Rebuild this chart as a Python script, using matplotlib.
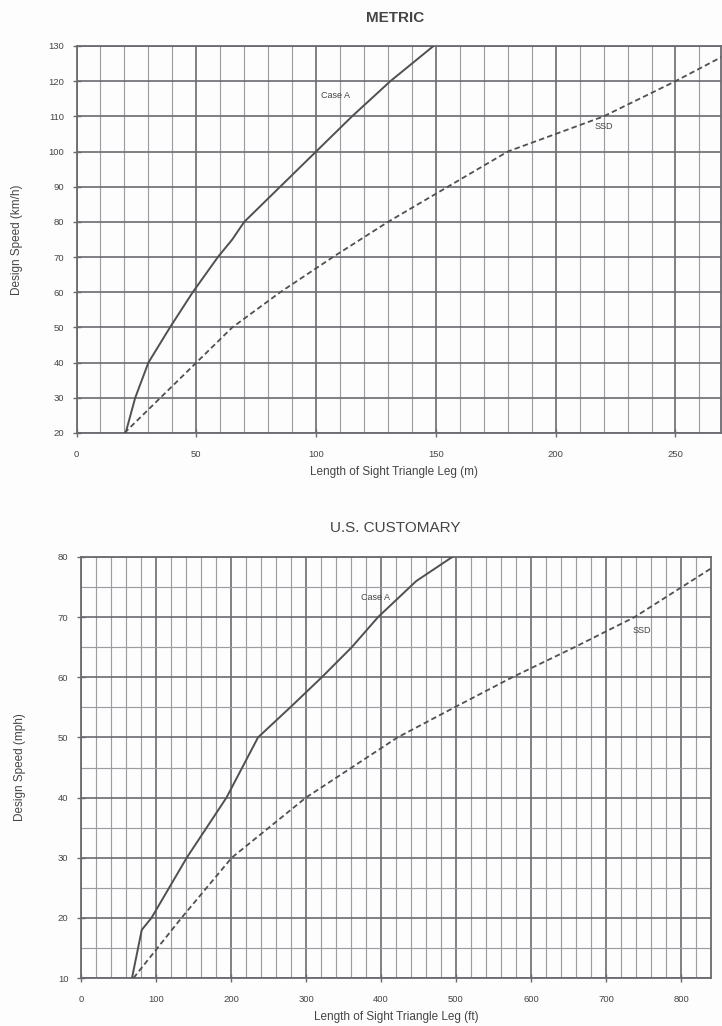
import matplotlib
matplotlib.use("Agg")
import matplotlib.pyplot as plt
from matplotlib.ticker import MultipleLocator

plt.rcParams['font.family'] = ['Liberation Sans', 'DejaVu Sans']

# ---- Metric data: design speed (km/h) vs. sight triangle leg (m) ----
metric_speed_case_a = [20, 30, 40, 50, 60, 70, 75, 80, 90, 100, 110, 120, 130]
metric_leg_case_a = [20.5, 24.5, 30, 39, 48.5, 59, 65, 70, 85, 100, 115, 131, 149]
metric_speed_ssd = [20, 30, 40, 50, 60, 70, 80, 90, 100, 110, 120, 130]
metric_leg_ssd = [20, 35, 50, 65, 85, 107, 130, 155, 180, 220, 250, 278]

# ---- U.S. customary data: design speed (mph) vs. sight triangle leg (ft) ----
us_speed_case_a = [10, 18, 20, 30, 40, 50, 55, 60, 65, 70, 76, 80]
us_leg_case_a = [68, 81, 94, 141, 194, 236, 279, 321, 361, 396, 447, 495]
us_speed_ssd = [10, 20, 30, 40, 50, 55, 60, 65, 70, 80]
us_leg_ssd = [70, 134, 201, 300, 422, 498, 575, 658, 738, 864]

metric_xticks = [0, 50, 100, 150, 200, 250]
metric_yticks = [20, 30, 40, 50, 60, 70, 80, 90, 100, 110, 120, 130]
us_xticks = [0, 100, 200, 300, 400, 500, 600, 700, 800]
us_yticks = [10, 20, 30, 40, 50, 60, 70, 80]

INK = '#454545'
LINE = '#505050'
GRID_MAJOR = '#6a6a70'
GRID_MINOR = '#9c9ca2'

fig = plt.figure(figsize=(7.22, 10.26), dpi=100)
fig.patch.set_facecolor('#fdfdfd')


def style_axes(ax, xlim, ylim, xticks, yticks, xminor, yminor):
    ax.set_facecolor('#fdfdfd')
    ax.set_xlim(*xlim)
    ax.set_ylim(*ylim)
    ax.set_xticks(xticks)
    ax.set_yticks(yticks)
    ax.xaxis.set_minor_locator(MultipleLocator(xminor))
    ax.yaxis.set_minor_locator(MultipleLocator(yminor))
    ax.grid(which='major', color=GRID_MAJOR, lw=1.2, zorder=0)
    ax.grid(which='minor', color=GRID_MINOR, lw=0.85, zorder=0)
    ax.set_axisbelow(True)
    ax.tick_params(which='major', direction='inout', length=6, width=1.0,
                   color=GRID_MAJOR, labelsize=6.8, labelcolor=INK)
    ax.tick_params(axis='x', which='major', pad=9)
    ax.tick_params(axis='y', which='major', pad=6)
    ax.tick_params(which='minor', length=0)
    for sp in ax.spines.values():
        sp.set_color(GRID_MAJOR)
        sp.set_linewidth(1.3)


# ---- METRIC panel ----
ax1 = fig.add_axes([76.5 / 722, 1 - 433 / 1026, (721 - 76.5) / 722, 387 / 1026])
style_axes(ax1, (0, 269), (20, 130), metric_xticks, metric_yticks, 10, 10)
ax1.plot(metric_leg_case_a, metric_speed_case_a, color=LINE, lw=1.4, zorder=3)
ax1.plot(metric_leg_ssd, metric_speed_ssd, color=LINE, lw=1.3,
         dashes=(3, 1.8), zorder=3)
ax1.text(108, 115.8, 'Case A', fontsize=6.5, color=INK, ha='center', va='center')
ax1.text(220, 107, 'SSD', fontsize=6.5, color=INK, ha='center', va='center')

fig.text(395 / 722, 1 - 18 / 1026, 'METRIC', fontsize=11, color=INK,
         ha='center', va='center', fontweight='bold')
fig.text(394 / 722, 1 - 472 / 1026, 'Length of Sight Triangle Leg (m)',
         fontsize=8.5, color=INK, ha='center', va='center')
fig.text(17 / 722, 1 - 240 / 1026, 'Design Speed (km/h)', fontsize=8.5,
         color=INK, ha='center', va='center', rotation=90)

# ---- U.S. CUSTOMARY panel ----
ax2 = fig.add_axes([81 / 722, 1 - 978 / 1026, 630 / 722, 421 / 1026])
style_axes(ax2, (0, 840), (10, 80), us_xticks, us_yticks, 20, 5)
ax2.plot(us_leg_case_a, us_speed_case_a, color=LINE, lw=1.4, zorder=3)
ax2.plot(us_leg_ssd, us_speed_ssd, color=LINE, lw=1.3,
         dashes=(3, 1.8), zorder=3)
ax2.text(392, 73.3, 'Case A', fontsize=6.5, color=INK, ha='center', va='center')
ax2.text(748, 67.7, 'SSD', fontsize=6.5, color=INK, ha='center', va='center')

fig.text(395 / 722, 1 - 528 / 1026, 'U.S. CUSTOMARY', fontsize=11, color=INK,
         ha='center', va='center')
fig.text(396 / 722, 1 - 1017 / 1026, 'Length of Sight Triangle Leg (ft)',
         fontsize=8.5, color=INK, ha='center', va='center')
fig.text(20 / 722, 1 - 767 / 1026, 'Design Speed (mph)', fontsize=8.5,
         color=INK, ha='center', va='center', rotation=90)

fig.savefig('out.png', dpi=100, facecolor=fig.get_facecolor())
